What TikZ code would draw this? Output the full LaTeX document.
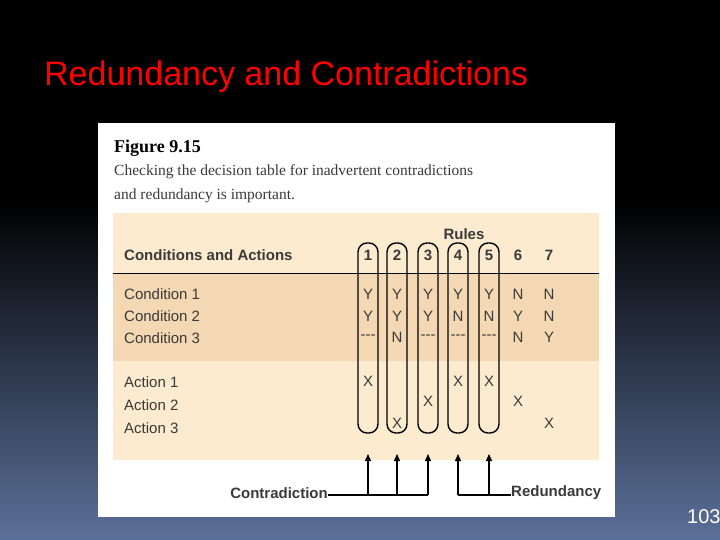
\documentclass[tikz,border=0pt]{standalone}
\usepackage{fontspec}
\setmainfont{Liberation Serif}
\newfontfamily\sansf{Liberation Sans}
\newfontfamily\titlef{Liberation Sans}
\usetikzlibrary{arrows.meta}
\definecolor{lightb}{HTML}{FCEBCF}
\definecolor{darkb}{HTML}{F3D8B3}
\definecolor{txt}{HTML}{3A3A3A}
\definecolor{bgbot}{HTML}{5B7099}
\begin{document}
\begin{tikzpicture}[x=1pt,y=-1pt,
  cell/.style={font=\sansf\fontsize{15}{15}\selectfont,text=txt,inner sep=0pt},
  hd/.style={font=\sansf\bfseries\fontsize{15}{15}\selectfont,text=txt,inner sep=0pt},
  lbl/.style={font=\sansf\fontsize{15}{15}\selectfont,text=txt,inner sep=0pt,anchor=west},
  rulebox/.style={draw=black,line width=1.4pt,rounded corners=9pt},
  conn/.style={draw=black,line width=1.2pt},
  arr/.style={conn,-{Triangle[length=7pt,width=6pt]}}]
\useasboundingbox (0,0) rectangle (720,540);
\shade[top color=black,bottom color=bgbot,middle color=black!85!bgbot] (0,0) rectangle (720,540);
\fill[black] (0,0) rectangle (720,200);
\shade[top color=black,bottom color=bgbot] (0,200) rectangle (720,540);
\node[anchor=west,text=red,font=\titlef\fontsize{34}{34}\selectfont,inner sep=0pt] (title) at (44,77) {Redundancy and Contradictions};
\node[text=white,font=\titlef\fontsize{20}{20}\selectfont,anchor=west,inner sep=0pt] (pg) at (687,517) {103};
\fill[white] (98,123) rectangle (615,517);
\fill[lightb] (113,213) rectangle (599,460);
\fill[darkb] (113,273) rectangle (599,361);
\draw[line width=1pt] (113,273) -- (599,273);
\node[anchor=west,inner sep=0pt,font=\bfseries\fontsize{18}{18}\selectfont] (fig) at (114,148) {Figure 9.15};
\node[anchor=west,inner sep=0pt,font=\fontsize{15.5}{15.5}\selectfont,text=txt] (c1) at (114,172) {Checking the decision table for inadvertent contradictions};
\node[anchor=west,inner sep=0pt,font=\fontsize{15.5}{15.5}\selectfont,text=txt] (c2) at (114,196) {and redundancy is important.};
\node[hd,anchor=west] (ca) at (124,255) {Conditions and Actions};
\node[hd] (rules) at (464,234) {Rules};
\foreach \n/\t in {1/Condition 1,2/Condition 2,3/Condition 3}{
  \node[lbl] (cl\n) at (124,{272+22*\n}) {\t};}
\foreach \n/\t in {1/Action 1,2/Action 2,3/Action 3}{
  \node[lbl] (al\n) at (124,{359+23*\n}) {\t};}
\foreach \i/\x in {1/368,2/397,3/428,4/458,5/489,6/518,7/549}{
  \node[hd] (h\i) at (\x,255) {\i};
  \coordinate (col\i) at (\x,0);}
\foreach \i in {1,...,5}{
  \draw[rulebox] ([xshift=-10pt]col\i |- 0,243) rectangle ([xshift=10pt]col\i |- 0,433);}
% condition entries
\foreach \i/\a/\b/\c in {1/Y/Y/---,2/Y/Y/N,3/Y/Y/---,4/Y/N/---,5/Y/N/---,6/N/Y/N,7/N/N/Y}{
  \node[cell] (r1c\i) at (col\i |- 0,294) {\a};
  \node[cell] (r2c\i) at (col\i |- 0,316) {\b};
  \node[cell] (r3c\i) at (col\i |- 0,337) {\c};}
\node[cell] (x1) at (368,381) {X};
\node[cell] (x2) at (397,423) {X};
\node[cell] (x3) at (428,401) {X};
\node[cell] (x4) at (458,381) {X};
\node[cell] (x5) at (489,381) {X};
\node[cell] (x6) at (518,401) {X};
\node[cell] (x7) at (549,423) {X};
% arrows
\foreach \i in {1,...,5}{
  \coordinate (top\i) at (col\i |- 0,454);
  \coordinate (bot\i) at (col\i |- 0,495);
  \draw[arr] (bot\i) -- (top\i);}
\node[hd,anchor=east] (contra) at (328,493) {Contradiction};
\node[hd,anchor=west] (redun) at (511,493) {Redundancy};
\draw[conn] (contra.east |- bot1) -- (bot3);
\draw[conn] (bot4) -- (redun.west |- bot4);
\end{tikzpicture}
\end{document}
